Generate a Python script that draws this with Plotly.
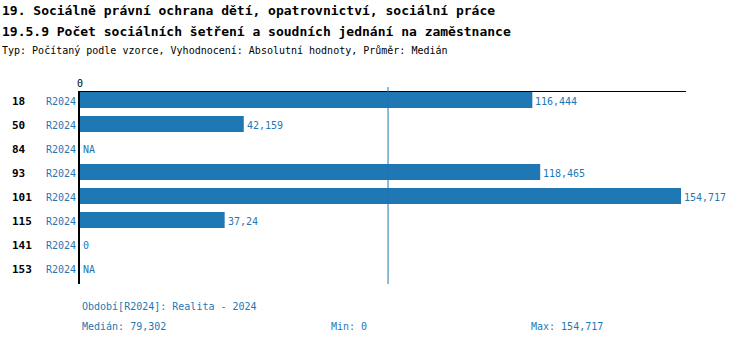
import plotly.graph_objects as go

categories = ["18", "50", "84", "93", "101", "115", "141", "153"]
period_labels = ["R2024"] * 8
values = [116444, 42159, None, 118465, 154717, 37240, 0, None]
value_labels = ["116,444", "42,159", "NA", "118,465", "154,717", "37,24", "0", "NA"]
median_value = 79302
title1 = "19. Sociálně právní ochrana dětí, opatrovnictví, sociální práce"
title2 = "19.5.9 Počet sociálních šetření a soudních jednání na zaměstnance"
subtitle = "Typ: Počítaný podle vzorce, Vyhodnocení: Absolutní hodnoty, Průměr: Medián"
footer_period = "Období[R2024]: Realita - 2024"
footer_median = "Medián: 79,302"
footer_min = "Min: 0"
footer_max = "Max: 154,717"

BLUE = "#1f77b4"
MONO = "DejaVu Sans Mono"

W, H = 750, 344
L, R, T, B = 80, 64, 92, 60
PW = W - L - R
PH = H - T - B

def px(x):
    return (x - L) / PW

def py(y):
    return (H - B - y) / PH

ypos = list(range(len(categories)))

fig = go.Figure()
fig.add_trace(go.Bar(
    x=[v if v is not None else 0 for v in values],
    y=ypos,
    orientation="h",
    width=16 / 24,
    marker=dict(color=BLUE, line=dict(width=0)),
    hoverinfo="skip",
))

ann = []
for i, (c, p, v, lab) in enumerate(zip(categories, period_labels, values, value_labels)):
    ann.append(dict(x=px(10), xref="paper", y=i, yref="y", text="<b>" + c + "</b>",
                    xanchor="left", yanchor="middle", yshift=-1, showarrow=False,
                    font=dict(family=MONO, size=11, color="black")))
    ann.append(dict(x=0, xref="paper", y=i, yref="y", text=p, xanchor="right",
                    yanchor="middle", xshift=-2, yshift=-1, showarrow=False,
                    font=dict(family=MONO, size=10, color=BLUE)))
    ann.append(dict(x=(v if v is not None else 0), xref="x", y=i, yref="y", text=lab,
                    xanchor="left", yanchor="middle", xshift=1, yshift=-1, showarrow=False,
                    font=dict(family=MONO, size=10, color=BLUE)))

for txt, y, size, bold in [(title1, 10, 13, True), (title2, 31, 13, True), (subtitle, 50, 10, False)]:
    ann.append(dict(x=px(0), xref="paper", y=py(y), yref="paper",
                    text=("<b>" + txt + "</b>") if bold else txt,
                    xanchor="left", yanchor="middle", showarrow=False,
                    font=dict(family=MONO, size=size, color="black")))

for txt, x, y in [(footer_period, 80, 306), (footer_median, 80, 326),
                  (footer_min, 329, 326), (footer_max, 529, 326)]:
    ann.append(dict(x=px(x), xref="paper", y=py(y), yref="paper", text=txt,
                    xanchor="left", yanchor="middle", showarrow=False,
                    font=dict(family=MONO, size=10, color=BLUE)))

fig.update_layout(
    width=W, height=H,
    margin=dict(l=L, r=R, t=T, b=B, pad=0),
    paper_bgcolor="white", plot_bgcolor="white",
    showlegend=False,
    annotations=ann,
    shapes=[dict(type="line", xref="x", yref="paper", x0=median_value, x1=median_value,
                 y0=0, y1=py(87), line=dict(color=BLUE, width=1), layer="above")],
    xaxis=dict(range=[0, 156000], side="top", showgrid=False, zeroline=False,
               showline=True, linecolor="black", linewidth=1,
               tickvals=[0], ticktext=["0"], ticks="",
               tickfont=dict(family=MONO, size=10, color="black")),
    yaxis=dict(range=[7 + 16 / 24, -8 / 24], showgrid=False, zeroline=False,
               showline=True, linecolor="black", linewidth=2,
               showticklabels=False, ticks=""),
)

fig.write_html("out.html")
